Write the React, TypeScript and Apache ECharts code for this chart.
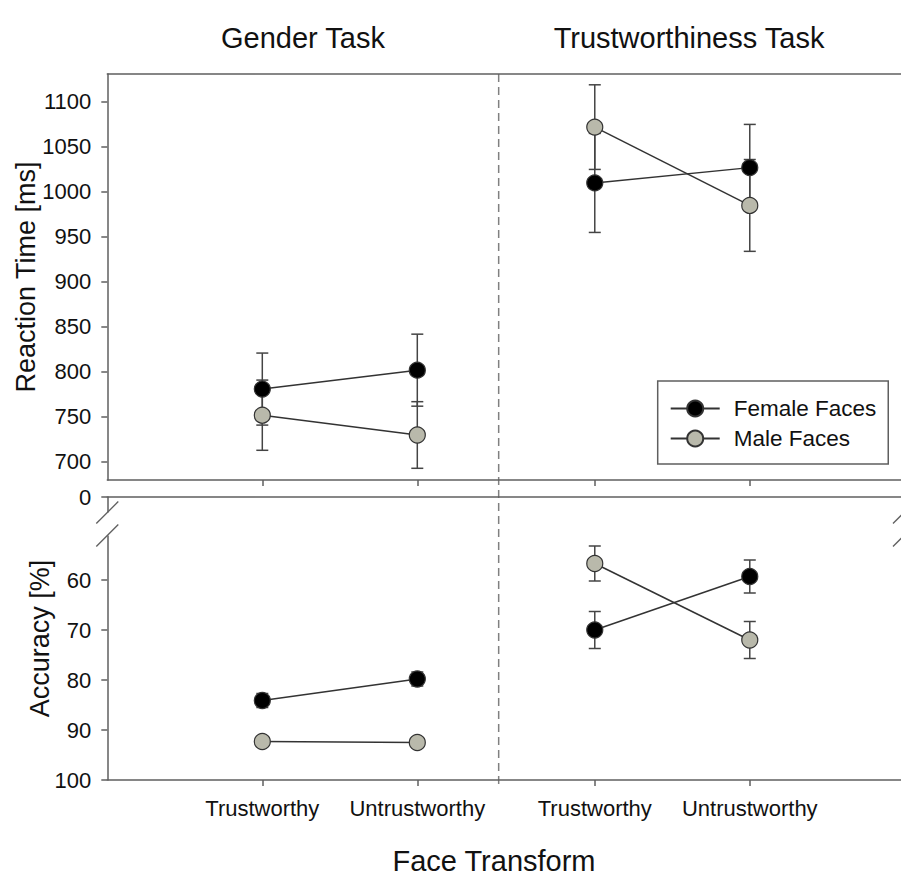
import React, { useEffect, useRef } from "react";
import * as echarts from "echarts";

// ---- data ----
const conditionLabels = ["Trustworthy", "Untrustworthy", "Trustworthy", "Untrustworthy"];
const conditionX = [1, 2, 3.145, 4.145];
const taskTitles = ["Gender Task", "Trustworthiness Task"];
const taskDividerX = 2.525;
const seriesNames = ["Female Faces", "Male Faces"];
const xAxisTitle = "Face Transform";

const rtFemale = [781, 802, 1010, 1027];
const rtFemaleErr = [40, 40, 55, 48];
const rtMale = [752, 730, 1072, 985];
const rtMaleErr = [39, 37, 47, 51];

const accFemale = [84.1, 79.8, 70.0, 59.3];
const accFemaleErr = [1.4, 1.4, 3.7, 3.3];
const accMale = [92.3, 92.5, 56.7, 72.0];
const accMaleErr = [1.0, 1.0, 3.5, 3.7];

const rtTicks = [700, 750, 800, 850, 900, 950, 1000, 1050, 1100];
const accTicks = [60, 70, 80, 90, 100];
const accBreakValue = 43.4; // top of the accuracy panel, labelled "0"
const accBreakLabel = "0";

// ---- style ----
const FONT = "Liberation Sans, Arial, sans-serif";
const AXIS_COLOR = "#5f5f5f";
const LINE_COLOR = "#333333";
const FILLS = ["#000000", "#b9b9ab"];

const GRID_LEFT = 107.3;
const GRID_RIGHT = -3;
const TOP_GRID = { top: 74, height: 406 };
const BOT_GRID = { top: 497, height: 283 };
const X_MAX = 5.14;

function segments(vals: number[]) {
  return [
    [[conditionX[0], vals[0]], [conditionX[1], vals[1]]],
    [[conditionX[2], vals[2]], [conditionX[3], vals[3]]],
  ];
}

function errData(vals: number[], errs: number[]) {
  return vals.map((v, i) => [conditionX[i], v - errs[i], v + errs[i]]);
}

const errorRender = (params: any, api: any) => {
  const x = api.value(0);
  const lo = api.coord([x, api.value(1)]);
  const hi = api.coord([x, api.value(2)]);
  const hw = 6;
  const st = { stroke: "#444", lineWidth: 1.5 };
  return {
    type: "group",
    children: [
      { type: "line", shape: { x1: lo[0], y1: lo[1], x2: hi[0], y2: hi[1] }, style: st },
      { type: "line", shape: { x1: lo[0] - hw, y1: lo[1], x2: lo[0] + hw, y2: lo[1] }, style: st },
      { type: "line", shape: { x1: hi[0] - hw, y1: hi[1], x2: hi[0] + hw, y2: hi[1] }, style: st },
    ],
  };
};

export default function App() {
  const ref = useRef<HTMLDivElement>(null);
  useEffect(() => {
    if (!ref.current) return;
    const chart = echarts.init(ref.current, null, { renderer: "svg" });

    const series: any[] = [];
    const panels = [
      { axis: 0, vals: [rtFemale, rtMale], errs: [rtFemaleErr, rtMaleErr] },
      { axis: 1, vals: [accFemale, accMale], errs: [accFemaleErr, accMaleErr] },
    ];
    panels.forEach((p) => {
      [0, 1].forEach((g) => {
        series.push({
          type: "custom",
          name: "err-" + p.axis + "-" + g,
          xAxisIndex: p.axis,
          yAxisIndex: p.axis,
          renderItem: errorRender,
          encode: { x: 0, y: [1, 2] },
          data: errData(p.vals[g], p.errs[g]),
          z: 1,
          silent: true,
          clip: false,
        });
      });
    });
    panels.forEach((p) => {
      [1, 0].forEach((g) => {
        segments(p.vals[g]).forEach((seg) => {
          series.push({
            type: "line",
            name: seriesNames[g],
            xAxisIndex: p.axis,
            yAxisIndex: p.axis,
            data: seg,
            symbol: "circle",
            symbolSize: 16,
            showSymbol: true,
            itemStyle: { color: FILLS[g], borderColor: "#333", borderWidth: 1.2 },
            lineStyle: { color: LINE_COLOR, width: 1.5 },
            emphasis: { disabled: true },
            z: 3 + (g === 1 ? 1 : 0),
            silent: true,
            clip: false,
          });
        });
      });
    });

    const axisLineStyle = { color: AXIS_COLOR, width: 1.5 };
    const xAxisBase = {
      type: "value",
      min: 0,
      max: X_MAX,
      splitLine: { show: false },
      axisLine: { show: true, onZero: false, lineStyle: axisLineStyle },
      axisTick: {
        show: true,
        inside: false,
        length: 6,
        customValues: conditionX,
        lineStyle: axisLineStyle,
      },
    };
    const xAxisTopBorder = {
      type: "value",
      min: 0,
      max: X_MAX,
      position: "top",
      splitLine: { show: false },
      axisLine: { show: true, onZero: false, lineStyle: axisLineStyle },
      axisTick: { show: false },
      axisLabel: { show: false },
    };

    const gridBase = { left: GRID_LEFT, right: GRID_RIGHT, show: false, outerBoundsMode: "none", containLabel: false };

    const option: any = {
      animation: false,
      backgroundColor: "#ffffff",
      textStyle: { fontFamily: FONT },
      grid: [
        { ...gridBase, top: TOP_GRID.top, height: TOP_GRID.height },
        { ...gridBase, top: BOT_GRID.top, height: BOT_GRID.height },
      ],
      xAxis: [
        { ...xAxisBase, gridIndex: 0, position: "bottom", axisLabel: { show: false } },
        {
          ...xAxisBase,
          gridIndex: 1,
          position: "bottom",
          axisLabel: {
            show: true,
            customValues: conditionX,
            margin: 17,
            fontSize: 22,
            color: "#111",
            fontFamily: FONT,
            formatter: (v: number) => {
              const i = conditionX.findIndex((c) => Math.abs(c - v) < 1e-6);
              return i >= 0 ? conditionLabels[i] : "";
            },
          },
        },
        { ...xAxisTopBorder, gridIndex: 0 },
        { ...xAxisTopBorder, gridIndex: 1 },
      ],
      yAxis: [
        {
          type: "value",
          gridIndex: 0,
          min: 680,
          max: 1131,
          name: "Reaction Time [ms]",
          nameLocation: "middle",
          nameRotate: 90,
          nameGap: 68,
          nameMoveOverlap: false,
          nameTextStyle: { fontSize: 27, color: "#111", fontFamily: FONT },
          splitLine: { show: false },
          axisLine: { show: true, onZero: false, lineStyle: axisLineStyle },
          axisTick: { show: true, length: 6, customValues: rtTicks, lineStyle: axisLineStyle },
          axisLabel: {
            customValues: rtTicks, fontSize: 22, margin: 16, color: "#111", fontFamily: FONT,
            formatter: (v: number) => String(v),
          },
        },
        {
          type: "value",
          gridIndex: 1,
          min: accBreakValue,
          max: 100,
          inverse: true,
          name: "Accuracy [%]",
          nameLocation: "middle",
          nameRotate: 90,
          nameGap: 54,
          nameMoveOverlap: false,
          nameTextStyle: { fontSize: 27, color: "#111", fontFamily: FONT },
          splitLine: { show: false },
          axisLine: { show: true, onZero: false, lineStyle: axisLineStyle },
          axisTick: {
            show: true, length: 6, customValues: [accBreakValue, ...accTicks],
            lineStyle: axisLineStyle,
          },
          axisLabel: {
            customValues: [accBreakValue, ...accTicks],
            fontSize: 22, margin: 16, color: "#111", fontFamily: FONT,
            formatter: (v: number) => (Math.abs(v - accBreakValue) < 1e-6 ? accBreakLabel : String(v)),
          },
        },
      ],
      legend: {
        data: seriesNames,
        orient: "vertical",
        left: 657.7,
        top: 381,
        padding: [16, 12, 14, 12],
        itemWidth: 49,
        itemHeight: 20,
        itemGap: 7,
        borderColor: AXIS_COLOR,
        borderWidth: 1.5,
        backgroundColor: "#fff",
        selectedMode: false,
        textStyle: { fontSize: 22.5, color: "#111", fontFamily: FONT, padding: [0, 0, 0, 9] },
      },
      series,
    };
    chart.setOption(option);

    const px = (v: number) => chart.convertToPixel({ xAxisIndex: 0 }, v) as number;
    const dx = px(taskDividerX);
    const g0 = px(0);
    const gEnd = px(X_MAX);
    const gapTop = 512.5;
    const gapBot = 535.5;
    const slash = (cx: number, cy: number) => ({
      type: "line",
      z: 20,
      shape: { x1: cx - 11, y1: cy + 11, x2: cx + 11, y2: cy - 11 },
      style: { stroke: AXIS_COLOR, lineWidth: 1.3 },
    });
    const textStyleBase = { fontFamily: FONT, fill: "#111", align: "center", verticalAlign: "middle" };
    chart.setOption({
      graphic: [
        {
          type: "line", z: 0,
          shape: { x1: dx, y1: TOP_GRID.top, x2: dx, y2: BOT_GRID.top + BOT_GRID.height + 6 },
          style: { stroke: "#808080", lineWidth: 1.5, lineDash: [8, 5] },
        },
        { type: "rect", z: 15, shape: { x: g0 - 3, y: gapTop, width: 6, height: gapBot - gapTop }, style: { fill: "#fff" } },
        slash(g0, gapTop),
        slash(g0, gapBot),
        slash(gEnd, gapTop),
        slash(gEnd, gapBot),
        { type: "text", x: (g0 + dx) / 2, y: 38, style: { ...textStyleBase, text: taskTitles[0], fontSize: 29 } },
        { type: "text", x: 689, y: 38, style: { ...textStyleBase, text: taskTitles[1], fontSize: 29 } },
        { type: "text", x: 494, y: 861, style: { ...textStyleBase, text: xAxisTitle, fontSize: 29 } },
      ],
    });

    return () => chart.dispose();
  }, []);
  return (
    <div
      ref={ref}
      style={{ position: "absolute", left: 0, top: 0, width: 901, height: 877, background: "#fff" }}
    />
  );
}
